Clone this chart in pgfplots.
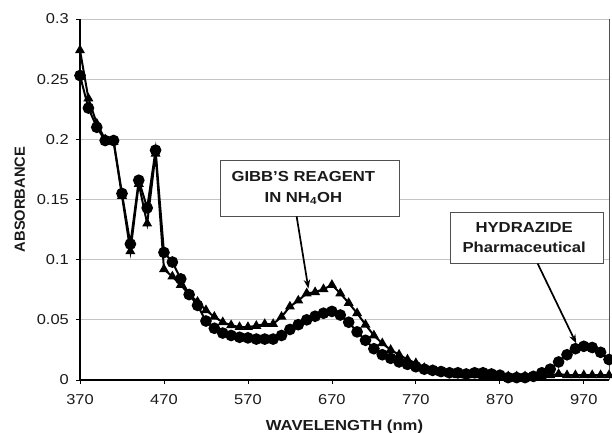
\documentclass[border=0pt]{standalone}
\usepackage{fontspec}
\setmainfont{Liberation Sans}[FakeStretch=1.15]
\newfontfamily\vfont{Liberation Sans}
\usepackage{pgfplots}
\usepackage{pgfplotstable}
\pgfplotsset{compat=1.18}
\usetikzlibrary{arrows.meta}
\definecolor{txt}{HTML}{1A1A1A}
\definecolor{gridc}{HTML}{C4C4C4}
\definecolor{boxc}{HTML}{505050}

\pgfplotstableread{
x y
370 0.274
380 0.234
390 0.213
400 0.200
410 0.198
420 0.153
430 0.107
440 0.163
450 0.130
460 0.188
470 0.092
480 0.086
490 0.079
500 0.071
510 0.065
520 0.058
530 0.0525
540 0.048
550 0.0455
560 0.044
570 0.044
580 0.045
590 0.0465
600 0.0465
610 0.0525
620 0.061
630 0.066
640 0.072
650 0.073
660 0.0755
670 0.079
680 0.072
690 0.064
700 0.0555
710 0.046
720 0.037
730 0.0305
740 0.025
750 0.021
760 0.017
770 0.014
780 0.010
790 0.008
800 0.006
810 0.005
820 0.004
830 0.004
840 0.004
850 0.003
860 0.003
870 0.003
880 0.003
890 0.003
900 0.003
910 0.003
920 0.003
930 0.004
940 0.005
950 0.004
960 0.004
970 0.004
980 0.004
990 0.004
1000 0.004
}\gibbs

\pgfplotstableread{
x y
370 0.253
380 0.226
390 0.210
400 0.199
410 0.199
420 0.155
430 0.113
440 0.166
450 0.143
460 0.191
470 0.106
480 0.098
490 0.084
500 0.071
510 0.062
520 0.049
530 0.043
540 0.039
550 0.037
560 0.0355
570 0.035
580 0.034
590 0.034
600 0.034
610 0.037
620 0.042
630 0.046
640 0.050
650 0.053
660 0.0555
670 0.057
680 0.054
690 0.048
700 0.040
710 0.033
720 0.026
730 0.021
740 0.018
750 0.015
760 0.013
770 0.011
780 0.009
790 0.008
800 0.007
810 0.006
820 0.006
830 0.005
840 0.006
850 0.006
860 0.005
870 0.004
880 0.002
890 0.002
900 0.002
910 0.003
920 0.006
930 0.009
940 0.015
950 0.021
960 0.026
970 0.028
980 0.027
990 0.023
1000 0.017
}\hydrazide

\begin{document}
\begin{tikzpicture}
\path[use as bounding box] (-80bp,-53bp) rectangle (532bp,380bp);
\begin{axis}[
  scale only axis, width=529bp, height=361bp,
  xmin=370, xmax=1000, ymin=0, ymax=0.3,
  axis lines*=left,
  axis line style={-, black, line width=1.1bp},
  clip=false,
  xtick={370,470,570,670,770,870,970},
  xticklabels={370,470,570,670,770,870,970},
  ytick={0,0.05,0.1,0.15,0.2,0.25,0.3},
  yticklabels={0,0.05,0.1,0.15,0.2,0.25,0.3},
  ymajorgrids,
  major grid style={gridc, line width=0.8bp},
  tick align=outside,
  major tick length=4bp,
  tick style={black, line width=0.8bp},
  ticklabel style={font=\fontsize{14.3bp}{16bp}\selectfont, text=txt},
  yticklabel style={inner sep=0pt, xshift=-7bp},
  xticklabel style={inner sep=0pt, yshift=-10bp},
  xlabel={WAVELENGTH (nm)},
  ylabel={ABSORBANCE},
  xlabel style={at={(axis description cs:0.5,-0.1385)}, anchor=base,
    font=\fontsize{14.5bp}{17bp}\selectfont\bfseries, text=txt},
  ylabel style={at={(axis description cs:-0.104,0.5)}, anchor=base,
    font=\vfont\fontsize{14.7bp}{17bp}\selectfont\bfseries, text=txt},
]
\draw[boxc, line width=0.8bp] (rel axis cs:1,0) -- (rel axis cs:1,1);

\addplot[black, line width=2bp, mark=triangle*, mark size=3.8bp,
  mark options={solid}] table[x=x,y=y] {\gibbs};
\addplot[black, line width=2bp, mark=*, mark size=4.8bp,
  mark options={solid}] table[x=x,y=y] {\hydrazide};

% annotation boxes
\draw[boxc, line width=1bp, fill=white] (axis cs:537,0.136) rectangle (axis cs:750,0.1824);
\node[align=center, text=txt, font=\fontsize{14.5bp}{21bp}\selectfont\bfseries]
  at (axis cs:636,0.1595) {GIBB'S REAGENT\\IN NH\textsubscript{4}OH};
\draw[black, line width=1.7bp, -{Stealth[length=9bp,width=6.5bp]}]
  (axis cs:628,0.136) -- (axis cs:642,0.076);

\draw[boxc, line width=1bp, fill=white] (axis cs:811,0.0968) rectangle (axis cs:993,0.1396);
\node[align=center, text=txt, font=\fontsize{14.5bp}{20bp}\selectfont\bfseries]
  at (axis cs:899,0.118) {HYDRAZIDE\\Pharmaceutical};
\draw[black, line width=1.7bp, -{Stealth[length=9bp,width=6.5bp]}]
  (axis cs:915,0.0968) -- (axis cs:961,0.0304);
\end{axis}
\end{tikzpicture}
\end{document}
